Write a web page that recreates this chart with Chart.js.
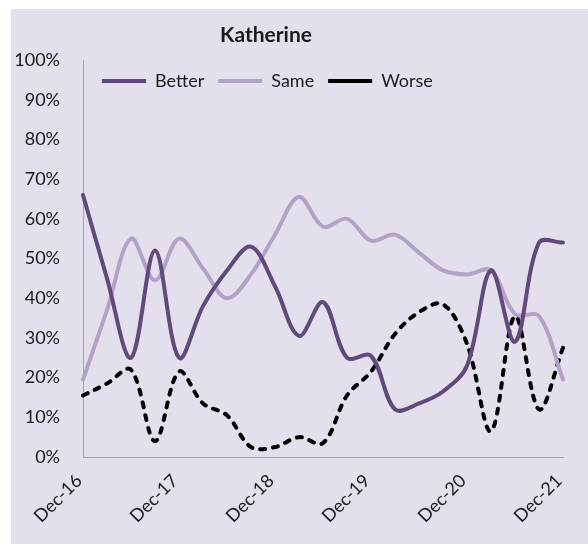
<!DOCTYPE html>
<html>
<head>
<meta charset="utf-8">
<script src="https://cdn.jsdelivr.net/npm/chart.js@4/dist/chart.umd.min.js"></script>
<style>
  body { margin: 0; background: #ffffff; }
  #box { position: absolute; left: 11px; top: 9px; width: 577px; height: 535px; background: #e4dfec; }
</style>
</head>
<body>
<div id="box"><canvas id="chart" width="577" height="535"></canvas></div>
<script>
// quarterly survey results
const quarters = [
    'Dec-16', 'Mar-17', 'Jun-17', 'Sep-17',
    'Dec-17', 'Mar-18', 'Jun-18', 'Sep-18',
    'Dec-18', 'Mar-19', 'Jun-19', 'Sep-19',
    'Dec-19', 'Mar-20', 'Jun-20', 'Sep-20',
    'Dec-20', 'Mar-21', 'Jun-21', 'Sep-21',
    'Dec-21'
];
const tickLabels = ['Dec-16', 'Dec-17', 'Dec-18', 'Dec-19', 'Dec-20', 'Dec-21'];
const better = [66, 45, 25, 52, 25, 38, 47, 53, 43, 30.5, 39, 25, 25.5, 12, 13.5, 16.5, 23, 47, 29, 54, 54];
const same   = [19.5, 37, 55, 44.5, 55, 47.5, 40, 46, 56, 65.5, 58, 60, 54.5, 56, 51.5, 47, 46, 47, 36, 35.5, 19.5];
const worse  = [15.5, 18.5, 22, 4, 21.5, 13.5, 10.5, 2.5, 2.5, 5, 3.5, 15.5, 21.5, 31, 36.5, 38.5, 28.5, 6.5, 35.5, 12, 27.5];

const font = 'Lato, "Open Sans", sans-serif';
const plotTop = 51;

const titlePlugin = {
    id: 'titleText',
    afterDraw(chart) {
        const ctx = chart.ctx;
        ctx.save();
        ctx.font = 'bold 21px ' + font;
        ctx.fillStyle = '#1a1a1a';
        ctx.textAlign = 'center';
        ctx.textBaseline = 'middle';
        ctx.fillText('Katherine', 255, 26);
        ctx.restore();
    }
};

// move the legend down into the plot area, like the original
const legendInside = {
    id: 'legendInside',
    afterLayout(chart) {
        const lg = chart.legend;
        const a = chart.chartArea;
        const w = lg.right - lg.left;
        const h = lg.bottom - lg.top;
        lg.top = a.top - 2;
        lg.bottom = lg.top + h;
        lg.left = a.left + 5;
        lg.right = lg.left + w;
    }
};

const config = {
    type: 'line',
    data: {
        labels: quarters,
        datasets: [
            { label: 'Better', data: better, borderColor: '#604a7b', backgroundColor: '#604a7b', borderWidth: 4, borderCapStyle: 'round' },
            { label: 'Same', data: same, borderColor: '#b3a2c7', backgroundColor: '#b3a2c7', borderWidth: 4, borderCapStyle: 'round' },
            { label: 'Worse', data: worse, borderColor: '#000000', backgroundColor: '#000000', borderWidth: 4, borderDash: [5, 8], borderCapStyle: 'round' }
        ]
    },
    options: {
        responsive: false,
        animation: false,
        tension: 0.35,
        pointRadius: 0,
        pointHoverRadius: 0,
        layout: { padding: { top: plotTop, right: 25, left: 0, bottom: 0 } },
        plugins: {
            title: { display: false },
            tooltip: { enabled: false },
            legend: {
                position: 'top',
                align: 'start',
                labels: {
                    usePointStyle: true,
                    pointStyle: 'line',
                    pointStyleWidth: 44,
                    padding: 14,
                    color: '#1a1a1a',
                    font: { family: font, size: 18 }
                }
            }
        },
        scales: {
            x: {
                grid: { display: false },
                border: { display: true, color: '#a6a6a6', width: 1 },
                afterFit(scale) { scale.height = 87; },
                ticks: {
                    autoSkip: false,
                    maxRotation: 45,
                    minRotation: 45,
                    padding: 5,
                    labelOffset: -4,
                    color: '#1a1a1a',
                    font: { family: font, size: 18 },
                    callback(value) {
                        const l = this.getLabelForValue(value);
                        return tickLabels.includes(l) ? l : '';
                    }
                }
            },
            y: {
                min: 0,
                max: 100,
                grid: { display: false },
                border: { display: true, color: '#a6a6a6', width: 1 },
                afterFit(scale) { scale.width = 72; },
                ticks: {
                    stepSize: 10,
                    padding: 15,
                    color: '#1a1a1a',
                    font: { family: font, size: 18 },
                    callback: v => v + '%'
                }
            }
        }
    },
    plugins: [titlePlugin, legendInside]
};

const chart = new Chart(document.getElementById('chart'), config);
// legend height is taken from the top padding so the plot top stays put
chart.options.layout.padding.top = plotTop - chart.legend.height;
chart.update();
</script>
</body>
</html>
